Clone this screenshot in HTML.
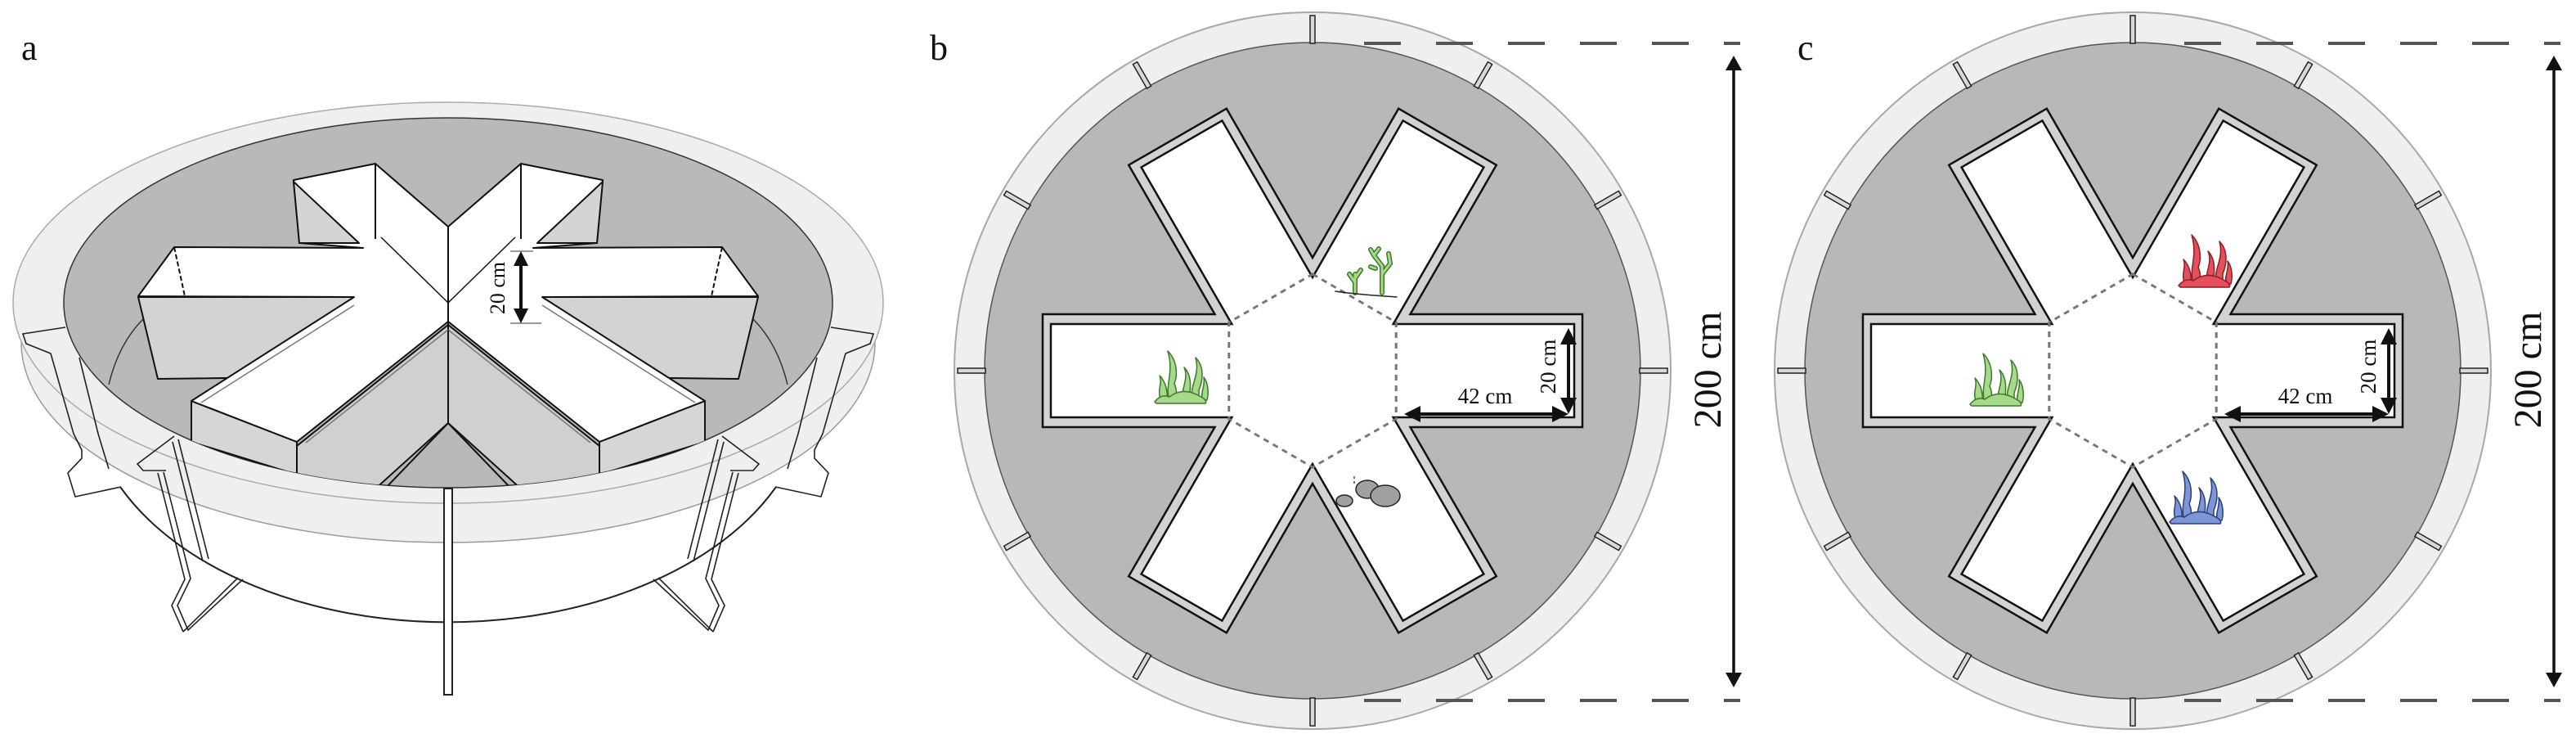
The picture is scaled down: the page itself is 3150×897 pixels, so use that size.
<!DOCTYPE html>
<html><head><meta charset="utf-8">
<style>
html,body{margin:0;padding:0;background:#fff;}
svg{display:block;}
text{font-family:"Liberation Serif","DejaVu Serif",serif;fill:#111;}
</style></head>
<body>
<svg width="3150" height="897" viewBox="0 0 3150 897" xmlns="http://www.w3.org/2000/svg">
<defs>
  <g id="grass" stroke-width="1.5" stroke-linejoin="round">
    <path d="M10,70 C4,58 12,50 8,40 C16,48 18,60 17,70 Z"/>
    <path d="M20,70 C14,50 26,38 18,10 C30,22 30,40 26,50 C30,58 28,66 28,70 Z"/>
    <path d="M36,70 C34,56 44,44 38,30 C48,40 46,56 44,70 Z"/>
    <path d="M48,70 C44,52 58,40 52,18 C64,30 60,48 56,58 L56,70 Z"/>
    <path d="M60,70 C58,60 64,52 62,42 C68,50 68,62 66,70 Z"/>
    <path d="M2,72 Q10,62 20,66 Q38,52 62,68 Q66,72 64,74 L4,74 Z"/>
  </g>
  <g id="tank">
    <circle r="438" fill="#efefef" stroke="#a8a8a8" stroke-width="2"/>
    <circle r="401" fill="#b8b8b8" stroke="#555" stroke-width="1.5"/>
    <g fill="#d8d8d8" stroke="#222" stroke-width="1.5">
      <rect x="-3" y="-434" width="6" height="34" transform="rotate(0)"/>
      <rect x="-3" y="-434" width="6" height="34" transform="rotate(30)"/>
      <rect x="-3" y="-434" width="6" height="34" transform="rotate(60)"/>
      <rect x="-3" y="-434" width="6" height="34" transform="rotate(90)"/>
      <rect x="-3" y="-434" width="6" height="34" transform="rotate(120)"/>
      <rect x="-3" y="-434" width="6" height="34" transform="rotate(150)"/>
      <rect x="-3" y="-434" width="6" height="34" transform="rotate(180)"/>
      <rect x="-3" y="-434" width="6" height="34" transform="rotate(210)"/>
      <rect x="-3" y="-434" width="6" height="34" transform="rotate(240)"/>
      <rect x="-3" y="-434" width="6" height="34" transform="rotate(270)"/>
      <rect x="-3" y="-434" width="6" height="34" transform="rotate(300)"/>
      <rect x="-3" y="-434" width="6" height="34" transform="rotate(330)"/>
    </g>
    <polygon fill="#d2d2d2" stroke="#111" stroke-width="2.5"
      points="330,-69 330,69 119.5,69 224.8,251.3 105.2,320.3 0,138 -105.2,320.3 -224.8,251.3 -119.5,69 -330,69 -330,-69 -119.5,-69 -224.8,-251.3 -105.2,-320.3 0,-138 105.2,-320.3 224.8,-251.3 119.5,-69"/>
    <polygon fill="#fff" stroke="#111" stroke-width="2.5"
      points="320,-57 320,57 98.7,57 209.4,248.6 110.6,305.6 0,114 -110.6,305.6 -209.4,248.6 -98.7,57 -320,57 -320,-57 -98.7,-57 -209.4,-248.6 -110.6,-305.6 0,-114 110.6,-305.6 209.4,-248.6 98.7,-57"/>
    <polygon fill="none" stroke="#777" stroke-width="3" stroke-dasharray="7,6"
      points="0,-118 102.2,-59 102.2,59 0,118 -102.2,59 -102.2,-59"/>
    <!-- dimension arrows -->
    <g stroke="#111" stroke-width="4">
      <line x1="313" y1="-36" x2="313" y2="38"/>
      <line x1="128" y1="53" x2="294" y2="53"/>
    </g>
    <g fill="#111">
      <polygon points="313,-52 303,-32 323,-32"/>
      <polygon points="313,53 303,33 323,33"/>
      <polygon points="112,53 132,43 132,63"/>
      <polygon points="313,53 293,43 293,63"/>
    </g>
    <text x="211" y="40" font-size="27" text-anchor="middle">42 cm</text>
    <text transform="translate(297,-5) rotate(-90)" font-size="27" text-anchor="middle">20 cm</text>
  </g>
</defs>

<!-- ================= PANEL A ================= -->
<text x="26" y="73" font-size="44">a</text>
<g>
  <!-- rim band -->
  <ellipse cx="548" cy="418" rx="522" ry="245" fill="#efefef" stroke="#9a9a9a" stroke-width="1.5"/>
  <ellipse cx="548" cy="370" rx="532" ry="245" fill="#efefef" stroke="#aaa" stroke-width="1.5"/>
  <!-- lower tank ellipse -->
  <path d="M147,595 A440,281 0 0 0 949,595" fill="none" stroke="#222" stroke-width="2"/>
  <!-- legs -->
  <g id="legsL" fill="none" stroke="#222" stroke-width="1.6">
    <polyline points="80,400 28,408 32,420 62,432 90,530 100,550 100,560 83,578 92,607 148,595"/>
    <polyline points="97,437 120,530 133,573"/>
    <polyline points="218,537 255,683"/>
    <polyline points="211,540 248,686"/>
    <polyline points="200,577 233,707 217,740 230,770 297,708"/>
    <polyline points="193,578 226,708 210,740 224,772"/>
    <polyline points="224,772 291,706"/>
    <polyline points="213,533 168,567 175,575 203,575"/>
    <path d="M133,470 Q145,420 175,390"/>
  </g>
  <use href="#legsL" transform="matrix(-1 0 0 1 1096 0)"/>
  <!-- inner grey -->
  <ellipse cx="548" cy="370" rx="470" ry="226" fill="#b9b9b9" stroke="#333" stroke-width="1.5"/>
  <path d="M133,470 Q145,420 175,390" fill="none" stroke="#333" stroke-width="1.5"/>
  <path d="M963,470 Q951,420 921,390" fill="none" stroke="#333" stroke-width="1.5"/>
  <clipPath id="cpA"><ellipse cx="548" cy="370" rx="470" ry="226"/></clipPath>
  <g clip-path="url(#cpA)">
    <g id="halfR" stroke="#111" stroke-width="2" stroke-linejoin="round">
      <!-- right arm front face -->
      <polygon points="663,363 927,363 903,463 658,460" fill="#d3d3d3"/>
      <!-- lower-right arm left wall face -->
      <polygon points="548,397 733,545 733,592 640,600 548,517" fill="#d0d0d0"/>
      <!-- lower-right arm end face -->
      <polygon points="733,540 862,490 862,540 733,580" fill="#d6d6d6"/>
      <!-- white tops -->
      <polygon points="548,277 637,200 737,220 730,297 652,303 883,302 927,362 663,363 862,490 733,540 548,393 548,370" fill="#fff"/>
      <polygon points="657,297 737,222 730,297" fill="#d4d4d4"/>
      <polyline points="637,200 637,292" fill="none"/>
      <polyline points="883,302 870,362" fill="none" stroke-dasharray="6,3"/>
      <polyline points="548,370 630,290" fill="none" stroke-width="1.5"/>
      <polyline points="548,277 548,363" fill="none"/>
      <polyline points="548,393 548,517" fill="none"/>
      <polyline points="548,517 625,597" fill="none"/>
      <polyline points="663,373 850,492" fill="none" stroke="#777" stroke-width="1.5"/>
      <polyline points="548,403 722,541" fill="none" stroke="#777" stroke-width="1.5"/>
    </g>
    <use href="#halfR" transform="matrix(-1 0 0 1 1096 0)"/>
  </g>
  <!-- front post -->
  <rect x="543" y="597" width="10" height="252" fill="#fff" stroke="#222" stroke-width="2"/>
  <!-- 20 cm arrow -->
  <line x1="637" y1="320" x2="637" y2="382" stroke="#111" stroke-width="4"/>
  <polygon points="637,307 628,325 646,325" fill="#111"/>
  <polygon points="637,395 628,377 646,377" fill="#111"/>
  <line x1="624" y1="307" x2="652" y2="307" stroke="#333" stroke-width="1"/>
  <line x1="624" y1="395" x2="662" y2="395" stroke="#333" stroke-width="1"/>
  <text transform="translate(617,352) rotate(-90)" font-size="26" text-anchor="middle">20 cm</text>
</g>

<!-- ================= PANEL B ================= -->
<text x="1137" y="73" font-size="44">b</text>
<use href="#tank" transform="translate(1605,453)"/>
<use href="#grass" x="1410" y="419" fill="#a6d98a" stroke="#3d7a2a"/>
<!-- branching plant -->
<g fill="none" stroke-linecap="round">
  <g stroke="#3d7a2a" stroke-width="6">
    <path d="M1657,358 L1657,335 M1657,345 L1650,335 M1657,340 L1664,330"/>
    <path d="M1690,358 L1690,325 L1680,312 M1690,335 L1700,322 L1698,310 M1682,328 L1676,326 M1680,312 L1676,305 M1680,312 L1686,304"/>
  </g>
  <g stroke="#a6d98a" stroke-width="3">
    <path d="M1657,358 L1657,335 M1657,345 L1650,335 M1657,340 L1664,330"/>
    <path d="M1690,358 L1690,325 L1680,312 M1690,335 L1700,322 L1698,310 M1682,328 L1676,326 M1680,312 L1676,305 M1680,312 L1686,304"/>
  </g>
  <path d="M1633,356 Q1660,360 1708,363" stroke="#222" stroke-width="1.5"/>
</g>
<!-- stones -->
<g fill="#a0a0a0" stroke="#222" stroke-width="1.5">
  <ellipse cx="1644" cy="612" rx="10" ry="7"/>
  <ellipse cx="1672" cy="598" rx="14" ry="11"/>
  <ellipse cx="1694" cy="606" rx="18" ry="13"/>
</g>
<line x1="1656" y1="582" x2="1656" y2="594" stroke="#777" stroke-width="2" stroke-dasharray="3,3"/>
<!-- 200 cm -->
<g stroke="#555" stroke-width="4" stroke-dasharray="45,43">
  <line x1="1668" y1="53" x2="2128" y2="53"/>
  <line x1="1668" y1="856" x2="2128" y2="856"/>
</g>
<line x1="2120" y1="84" x2="2120" y2="824" stroke="#111" stroke-width="3.5"/>
<polygon points="2120,68 2110,86 2130,86" fill="#111"/>
<polygon points="2120,840 2110,822 2130,822" fill="#111"/>
<text transform="translate(2104,452) rotate(-90)" font-size="48" text-anchor="middle">200 cm</text>

<!-- ================= PANEL C ================= -->
<text x="2198" y="73" font-size="44">c</text>
<use href="#tank" transform="translate(2608,453)"/>
<use href="#grass" x="2407" y="422" fill="#a6d98a" stroke="#3d7a2a"/>
<use href="#grass" x="2662" y="277" fill="#e5505c" stroke="#8a1f28"/>
<use href="#grass" x="2651" y="566" fill="#7d96d6" stroke="#2c3f7a"/>
<g stroke="#555" stroke-width="4" stroke-dasharray="45,43">
  <line x1="2671" y1="53" x2="3131" y2="53"/>
  <line x1="2671" y1="856" x2="3131" y2="856"/>
</g>
<line x1="3123" y1="84" x2="3123" y2="824" stroke="#111" stroke-width="3.5"/>
<polygon points="3123,68 3113,86 3133,86" fill="#111"/>
<polygon points="3123,840 3113,822 3133,822" fill="#111"/>
<text transform="translate(3107,452) rotate(-90)" font-size="48" text-anchor="middle">200 cm</text>
</svg>
</body></html>
